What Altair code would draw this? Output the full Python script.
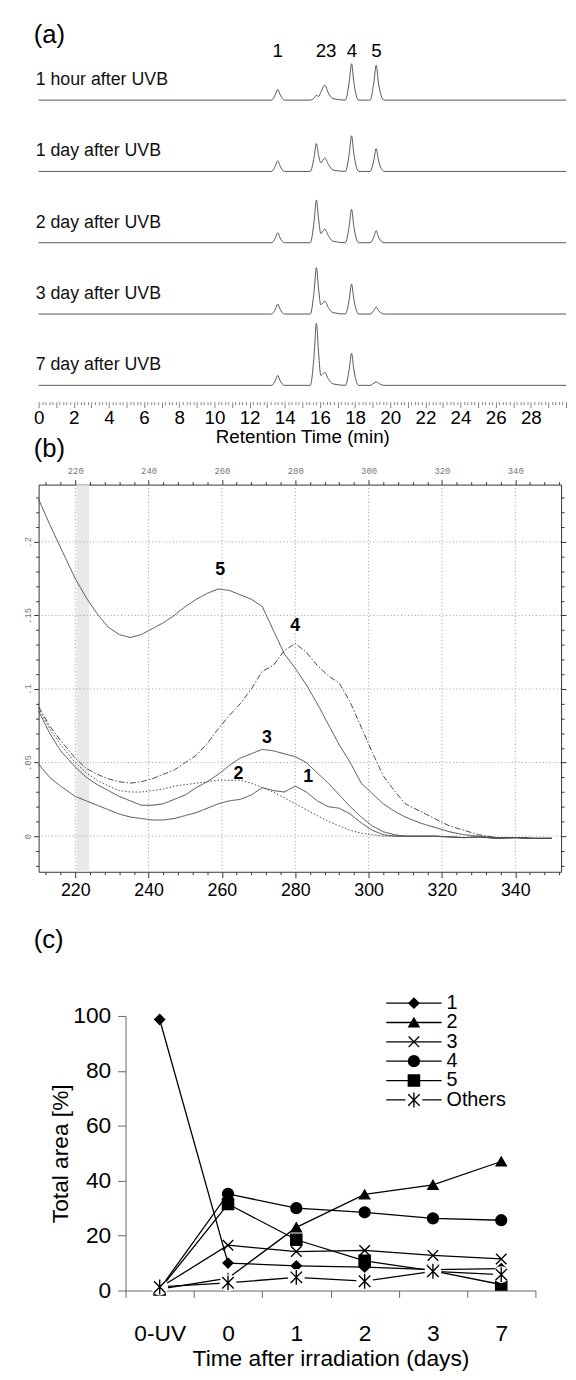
import altair as alt
import pandas as pd

FONT = "Liberation Sans"
MONO = "Liberation Mono"

# ---------------- (a) HPLC chromatograms ----------------
trace_names = ["1 hour after UVB", "1 day after UVB", "2 day after UVB",
               "3 day after UVB", "7 day after UVB"]
trace_offsets = [4, 3, 2, 1, 0]
rt_min = [0.0, 13.25, 13.47, 13.6, 13.73, 13.98, 15.45, 15.67, 15.8, 15.93,
          16.05, 16.28, 16.48, 16.75, 17.45, 17.67, 17.8, 17.93, 18.2, 18.85,
          19.07, 19.2, 19.33, 19.65, 30.0]
h_1hour = [0, 0, 0.08, 0.15, 0.08, 0, 0, 0.03, 0.07, 0.05, 0.11, 0.21, 0.10, 0.02,
           0, 0.26, 0.51, 0.25, 0, 0, 0.25, 0.49, 0.24, 0, 0]
h_1day = [0, 0, 0.08, 0.15, 0.08, 0, 0, 0.20, 0.39, 0.22, 0.12, 0.19, 0.10, 0.02,
          0, 0.25, 0.50, 0.25, 0, 0, 0.16, 0.32, 0.16, 0, 0]
h_2day = [0, 0, 0.07, 0.14, 0.07, 0, 0, 0.30, 0.60, 0.32, 0.13, 0.19, 0.10, 0.02,
          0, 0.24, 0.47, 0.23, 0, 0, 0.08, 0.17, 0.08, 0, 0]
h_3day = [0, 0, 0.07, 0.14, 0.07, 0, 0, 0.32, 0.65, 0.34, 0.13, 0.18, 0.09, 0.02,
          0, 0.21, 0.42, 0.21, 0, 0, 0.05, 0.10, 0.05, 0, 0]
h_7day = [0, 0, 0.07, 0.14, 0.07, 0, 0, 0.42, 0.87, 0.44, 0.14, 0.18, 0.09, 0.02,
          0, 0.23, 0.45, 0.22, 0, 0, 0.03, 0.05, 0.03, 0, 0]
peak_labels = ["1", "23", "4", "5"]
peak_rt = [13.6, 16.35, 17.82, 19.22]

# ---------------- (b) UV spectra ----------------
wl = [210, 213, 216, 220, 223, 226, 229, 232, 235, 238, 241, 244, 247, 250, 253,
      256, 259, 262, 265, 268, 271, 274, 277, 280, 283, 286, 289, 292, 295, 298,
      301, 304, 307, 310, 314, 318, 322, 326, 330, 335, 340, 345, 350]
abs_1 = [0.049, 0.040, 0.034, 0.027, 0.024, 0.021, 0.018, 0.015, 0.013, 0.012, 0.011,
         0.011, 0.012, 0.014, 0.016, 0.019, 0.022, 0.024, 0.025, 0.028, 0.033, 0.031,
         0.030, 0.034, 0.030, 0.024, 0.020, 0.019, 0.015, 0.009, 0.004, 0.001, 0.0,
         0.0, 0.0, 0.0, -0.0005, -0.001, -0.0005, -0.0015, -0.001, -0.0015, -0.0015]
abs_2 = [0.087, 0.073, 0.062, 0.050, 0.043, 0.038, 0.034, 0.031, 0.030, 0.030, 0.031,
         0.032, 0.034, 0.035, 0.036, 0.037, 0.038, 0.038, 0.038, 0.036, 0.033, 0.030,
         0.026, 0.022, 0.018, 0.014, 0.010, 0.007, 0.004, 0.002, 0.001, 0.0, 0.0,
         0.0, 0.0, 0.0, -0.0005, -0.001, -0.0005, -0.0015, -0.001, -0.0015, -0.0015]
abs_3 = [0.085, 0.070, 0.058, 0.047, 0.040, 0.035, 0.031, 0.027, 0.024, 0.021, 0.021,
         0.022, 0.025, 0.028, 0.033, 0.037, 0.042, 0.048, 0.053, 0.056, 0.059, 0.058,
         0.056, 0.054, 0.050, 0.043, 0.036, 0.028, 0.020, 0.013, 0.007, 0.003, 0.001,
         0.0, 0.0, 0.0, -0.0005, -0.001, -0.0005, -0.0015, -0.001, -0.0015, -0.0015]
abs_4 = [0.088, 0.075, 0.065, 0.053, 0.046, 0.042, 0.039, 0.037, 0.036, 0.037, 0.039,
         0.042, 0.045, 0.050, 0.055, 0.063, 0.073, 0.082, 0.090, 0.100, 0.112, 0.116,
         0.126, 0.131, 0.125, 0.116, 0.109, 0.104, 0.091, 0.074, 0.057, 0.041, 0.031,
         0.022, 0.017, 0.012, 0.007, 0.004, 0.001, -0.001, -0.001, -0.0015, -0.0015]
abs_5 = [0.229, 0.212, 0.196, 0.175, 0.162, 0.151, 0.142, 0.137, 0.135, 0.137, 0.141,
         0.145, 0.150, 0.156, 0.161, 0.165, 0.168, 0.167, 0.164, 0.161, 0.156, 0.140,
         0.124, 0.114, 0.103, 0.090, 0.076, 0.062, 0.050, 0.036, 0.029, 0.022, 0.017,
         0.013, 0.009, 0.006, 0.003, 0.001, 0.0, -0.001, -0.001, -0.0015, -0.0015]
curve_names = ["1", "2", "3", "4", "5"]
curve_label_nm = [283.5, 264.5, 272.3, 280.0, 259.5]
curve_label_abs = [0.040, 0.042, 0.067, 0.143, 0.181]
grid_nm = [220, 240, 260, 280, 300, 320, 340]
grid_abs = [0.0, 0.05, 0.10, 0.15, 0.20]
band_nm = [220.3, 223.8]

# ---------------- (c) peak areas ----------------
days = ["0-UV", "0", "1", "2", "3", "7"]
series_names = ["1", "2", "3", "4", "5", "Others"]
area_1 = [98.7, 10.0, 9.0, 8.5, 7.6, 8.0]
area_2 = [0.5, 4.5, 23.0, 35.0, 38.5, 47.0]
area_3 = [1.0, 16.5, 14.2, 14.6, 12.8, 11.5]
area_4 = [0.6, 35.2, 30.0, 28.5, 26.3, 25.6]
area_5 = [0.4, 31.5, 18.5, 10.8, 7.2, 2.2]
area_others = [1.3, 2.8, 4.8, 3.4, 7.0, 5.8]

# ================= panel (a) =================
heights = [h_1hour, h_1day, h_2day, h_3day, h_7day]
rows = []
for name, off, hs in zip(trace_names, trace_offsets, heights):
    for t, h in zip(rt_min, hs):
        rows.append({"trace": name, "rt": t, "level": off + h})
df_a = pd.DataFrame(rows)
df_a_lab = pd.DataFrame({"trace": trace_names,
                         "level": [o + 0.28 for o in trace_offsets]})
df_a_peak = pd.DataFrame({"lbl": peak_labels, "rt": peak_rt,
                          "level": [4.69] * len(peak_rt)})

xa_scale = alt.Scale(domain=[0, 30], nice=False, zero=False)
ya_scale = alt.Scale(domain=[-0.2285, 5.1316], nice=False, zero=False)
tick_vals_a = [round(i * 0.2, 1) for i in range(151)]
axis_a = alt.Axis(
    values=tick_vals_a, domain=False, grid=False,
    tickColor="#666", tickWidth=0.8,
    tickSize={"condition": {"test": "abs(datum.value - round(datum.value)) < 0.01", "value": 6}, "value": 3},
    labelExpr="(abs(datum.value/2 - round(datum.value/2)) < 0.01 && datum.value < 29) ? format(datum.value, 'd') : ''",
    labelFont=FONT, labelFontSize=19, labelColor="black", labelPadding=1,
    labelOverlap=False, labelFlush=False, labelBound=False,
    title="Retention Time (min)", titleFont=FONT, titleFontSize=19,
    titleFontWeight="normal", titleColor="black", titlePadding=0)

a_lines = alt.Chart(df_a).mark_line(color="#555", strokeWidth=1, interpolate="monotone").encode(
    x=alt.X("rt:Q", scale=xa_scale, axis=axis_a),
    y=alt.Y("level:Q", scale=ya_scale, axis=None),
    detail="trace:N")
a_labels = alt.Chart(df_a_lab).mark_text(align="left", baseline="middle", font=FONT,
                                         fontSize=18, color="#111").encode(
    x=alt.value(-3),
    y=alt.Y("level:Q", scale=ya_scale, axis=None),
    text="trace:N")
a_peaks = alt.Chart(df_a_peak).mark_text(align="center", baseline="middle", font=FONT,
                                         fontSize=19, color="black").encode(
    x=alt.X("rt:Q", scale=xa_scale, axis=None),
    y=alt.Y("level:Q", scale=ya_scale, axis=None),
    text="lbl:N")
a_tag = alt.Chart(pd.DataFrame({"t": ["(a)"]})).mark_text(
    align="left", baseline="middle", font=FONT, fontSize=26, color="black").encode(
    x=alt.value(-5), y=alt.value(16), text="t:N")
panel_a = alt.layer(a_lines, a_labels, a_peaks, a_tag).resolve_axis(
    x="independent", y="independent").properties(width=534, height=387)

# ================= panel (b) =================
spectra = [abs_1, abs_2, abs_3, abs_4, abs_5]
rows = []
for name, vals in zip(curve_names, spectra):
    for w, v in zip(wl, vals):
        rows.append({"curve": name, "nm": w, "A": v})
df_b = pd.DataFrame(rows)

xb_scale = alt.Scale(domain=[210, 352.5], nice=False, zero=False)
yb_scale = alt.Scale(domain=[-0.0242, 0.2389], nice=False, zero=False)
tick_vals_bx = list(range(212, 353, 4))
tick_vals_by = [round(-0.02 + 0.01 * i, 2) for i in range(26)]
major_x = "datum.value % 20 === 0"
major_y = "abs(datum.value*20 - round(datum.value*20)) < 0.01"

axis_b_bottom = alt.Axis(
    orient="bottom", values=tick_vals_bx, grid=False, domainColor="#333", tickColor="#333",
    tickSize={"condition": {"test": major_x, "value": 6}, "value": 3},
    labelExpr=major_x + " ? format(datum.value, 'd') : ''",
    labelFont=FONT, labelFontSize=18, labelColor="black", labelPadding=4,
    labelOverlap=False, labelFlush=False, labelBound=False, title=None)
axis_b_left = alt.Axis(
    orient="left", values=tick_vals_by, grid=False, domainColor="#333", tickColor="#333",
    tickSize={"condition": {"test": major_y, "value": 5}, "value": 3},
    labelExpr="(" + major_y + " && datum.value > -0.001 && datum.value < 0.21) ? "
              "(abs(datum.value) < 0.001 ? '0' : replace(format(datum.value, '.2~f'), '0.', '.')) : ''",
    labelAngle=-90, labelFont=MONO, labelFontSize=9, labelColor="#777", labelPadding=1,
    labelOverlap=False, labelFlush=False, labelBound=False, title=None)
axis_b_top = alt.Axis(
    orient="top", values=tick_vals_bx, grid=False, domainColor="#333", tickColor="#333",
    tickSize={"condition": {"test": major_x, "value": 5}, "value": 3},
    labelExpr=major_x + " ? format(datum.value, 'd') : ''",
    labelFont=MONO, labelFontSize=9, labelColor="#777", labelPadding=4,
    labelOverlap=False, labelFlush=False, labelBound=False, title=None)
axis_b_right = alt.Axis(
    orient="right", values=tick_vals_by, grid=False, domainColor="#333", tickColor="#333",
    tickSize={"condition": {"test": major_y, "value": 5}, "value": 3},
    labels=False, title=None)

b_band = alt.Chart(pd.DataFrame({"x1": [band_nm[0]], "x2": [band_nm[1]]})).mark_rect(
    color="#e4e4e4", opacity=0.8).encode(
    x=alt.X("x1:Q", scale=xb_scale, axis=None), x2="x2:Q")
b_gridx = alt.Chart(pd.DataFrame({"g": grid_nm})).mark_rule(
    color="#999", strokeWidth=1, strokeDash=[1, 2.5]).encode(
    x=alt.X("g:Q", scale=xb_scale, axis=None))
b_gridy = alt.Chart(pd.DataFrame({"g": grid_abs})).mark_rule(
    color="#999", strokeWidth=1, strokeDash=[1, 2.5]).encode(
    y=alt.Y("g:Q", scale=yb_scale, axis=None))
b_lines = alt.Chart(df_b).mark_line(color="#484848", strokeWidth=1).encode(
    x=alt.X("nm:Q", scale=xb_scale, axis=axis_b_bottom),
    y=alt.Y("A:Q", scale=yb_scale, axis=axis_b_left),
    detail="curve:N",
    strokeDash=alt.StrokeDash("curve:N", scale=alt.Scale(
        domain=curve_names, range=[[1, 0], [1.5, 2], [1, 0], [6, 2, 1.5, 2], [1, 0]]), legend=None))
b_labels = alt.Chart(pd.DataFrame({"lbl": curve_names, "nm": curve_label_nm, "A": curve_label_abs})).mark_text(
    font=FONT, fontSize=18, fontWeight="bold", color="black", align="center", baseline="middle").encode(
    x=alt.X("nm:Q", scale=xb_scale, axis=None),
    y=alt.Y("A:Q", scale=yb_scale, axis=None),
    text="lbl:N")
b_tag = alt.Chart(pd.DataFrame({"t": ["(b)"]})).mark_text(
    align="left", baseline="middle", font=FONT, fontSize=26, color="black").encode(
    x=alt.value(-5), y=alt.value(-36), text="t:N")
b_frame = alt.Chart(pd.DataFrame({"nm": [210.0], "A": [0.0]})).mark_point(opacity=0).encode(
    x=alt.X("nm:Q", scale=xb_scale, axis=axis_b_top),
    y=alt.Y("A:Q", scale=yb_scale, axis=axis_b_right))
panel_b = alt.layer(b_band, b_gridx, b_gridy, b_lines, b_labels, b_tag, b_frame).resolve_axis(
    x="independent", y="independent").properties(width=529, height=392)

# ================= panel (c) =================
areas = [area_1, area_2, area_3, area_4, area_5, area_others]
rows = []
for name, vals in zip(series_names, areas):
    for d, v in zip(days, vals):
        rows.append({"series": name, "day": d, "value": v})
df_c = pd.DataFrame(rows)

x_path = "M-1,-1L1,1M-1,1L1,-1"
star_path = "M-1,-1L1,1M-1,1L1,-1M0,-1.3L0,1.3"
shape_scale = alt.Scale(domain=series_names,
                        range=["diamond", "triangle-up", x_path, "circle", "square", star_path])
size_scale = alt.Scale(domain=series_names, range=[100, 135, 110, 85, 75, 120])
xc_scale = alt.Scale(type="band", paddingInner=0, paddingOuter=0)
yc_scale = alt.Scale(domain=[0, 100], nice=False)

xc = alt.X("day:N", sort=days, scale=xc_scale,
           axis=alt.Axis(tickBand="extent", tickSize=7, labelAngle=0, domainColor="#666",
                         tickColor="#666", labelFont=FONT, labelFontSize=23, labelColor="black",
                         labelPadding=26, title="Time after irradiation (days)", titleFont=FONT,
                         titleFontSize=23, titleFontWeight="normal", titleColor="black",
                         titlePadding=2, grid=False))
yc = alt.Y("value:Q", scale=yc_scale,
           axis=alt.Axis(values=[0, 20, 40, 60, 80, 100], tickSize=8, domainColor="#666",
                         tickColor="#666", labelFont=FONT, labelFontSize=23, labelColor="black",
                         labelPadding=7, grid=False, title="Total area [%]", titleFont=FONT,
                         titleFontSize=23, titleFontWeight="normal", titleColor="black",
                         titleAngle=-90, titleX=-66, titleY=139, titleBaseline="middle",
                         titleAlign="center"))
is_other = alt.datum.series == "Others"
c_lines = alt.Chart(df_c).mark_line(color="black", strokeWidth=1.3).encode(
    x=xc, y=yc, detail="series:N")
pt_x = alt.X("day:N", sort=days, scale=xc_scale, axis=None)
pt_y = alt.Y("value:Q", scale=yc_scale, axis=None)
c_points = alt.Chart(df_c).transform_filter(~is_other).mark_point(
    filled=True, fill="black", stroke="black", strokeWidth=1.4, opacity=1).encode(
    x=pt_x, y=pt_y,
    shape=alt.Shape("series:N", scale=shape_scale, legend=None),
    size=alt.Size("series:O", scale=size_scale, legend=None))
c_halo = alt.Chart(df_c).transform_filter(is_other).mark_point(
    filled=True, fill="white", stroke="white", opacity=1, shape="circle", size=230).encode(
    x=pt_x, y=pt_y)
c_others = alt.Chart(df_c).transform_filter(is_other).mark_point(
    filled=True, fill="black", stroke="black", strokeWidth=1.4, opacity=1).encode(
    x=pt_x, y=pt_y,
    shape=alt.Shape("series:N", scale=shape_scale, legend=None),
    size=alt.Size("series:O", scale=size_scale, legend=None))
c_data = alt.layer(c_lines, c_points, c_halo, c_others).resolve_axis(x="independent", y="independent")

df_leg = pd.DataFrame({"series": series_names})
leg_y = alt.Y("series:N", sort=series_names,
              scale=alt.Scale(type="point", range=[-13, 85], padding=0), axis=None)
leg_rule = alt.Chart(df_leg).mark_rule(color="black", strokeWidth=1.3).encode(
    x=alt.value(264), x2=alt.value(320), y=leg_y)
leg_halo = alt.Chart(df_leg).transform_filter(is_other).mark_point(
    filled=True, fill="white", stroke="white", opacity=1, shape="circle", size=230).encode(
    x=alt.value(292), y=leg_y)
leg_pts = alt.Chart(df_leg).mark_point(filled=True, fill="black", stroke="black",
                                       strokeWidth=1.4, opacity=1).encode(
    x=alt.value(292), y=leg_y,
    shape=alt.Shape("series:N", scale=shape_scale, legend=None),
    size=alt.Size("series:O", scale=size_scale, legend=None))
leg_txt = alt.Chart(df_leg).mark_text(align="left", baseline="middle", font=FONT,
                                      fontSize=20, color="black").encode(
    x=alt.value(325), y=leg_y, text="series:N")
c_legend = alt.layer(leg_rule, leg_halo, leg_pts, leg_txt)

panel_c = alt.layer(c_data, c_legend).resolve_scale(y="independent").resolve_axis(
    x="independent", y="independent").properties(width=415, height=278)

spacer = alt.Chart(pd.DataFrame({"t": ["(c)"]})).mark_text(
    align="left", baseline="middle", font=FONT, fontSize=26, color="black").encode(
    x=alt.value(-5), y=alt.value(-77), text="t:N").properties(width=88, height=278)

row_c = alt.hconcat(spacer, panel_c, spacing=0, bounds="flush")
lower = alt.vconcat(panel_b, row_c, spacing=146, bounds="flush")
chart = alt.vconcat(panel_a, lower, spacing=84, bounds="flush").properties(
    padding={"left": 16, "top": 3, "right": 0, "bottom": 0}
).configure_view(stroke=None)

chart.save("out.html", embed_options={"renderer": "svg", "actions": False})
